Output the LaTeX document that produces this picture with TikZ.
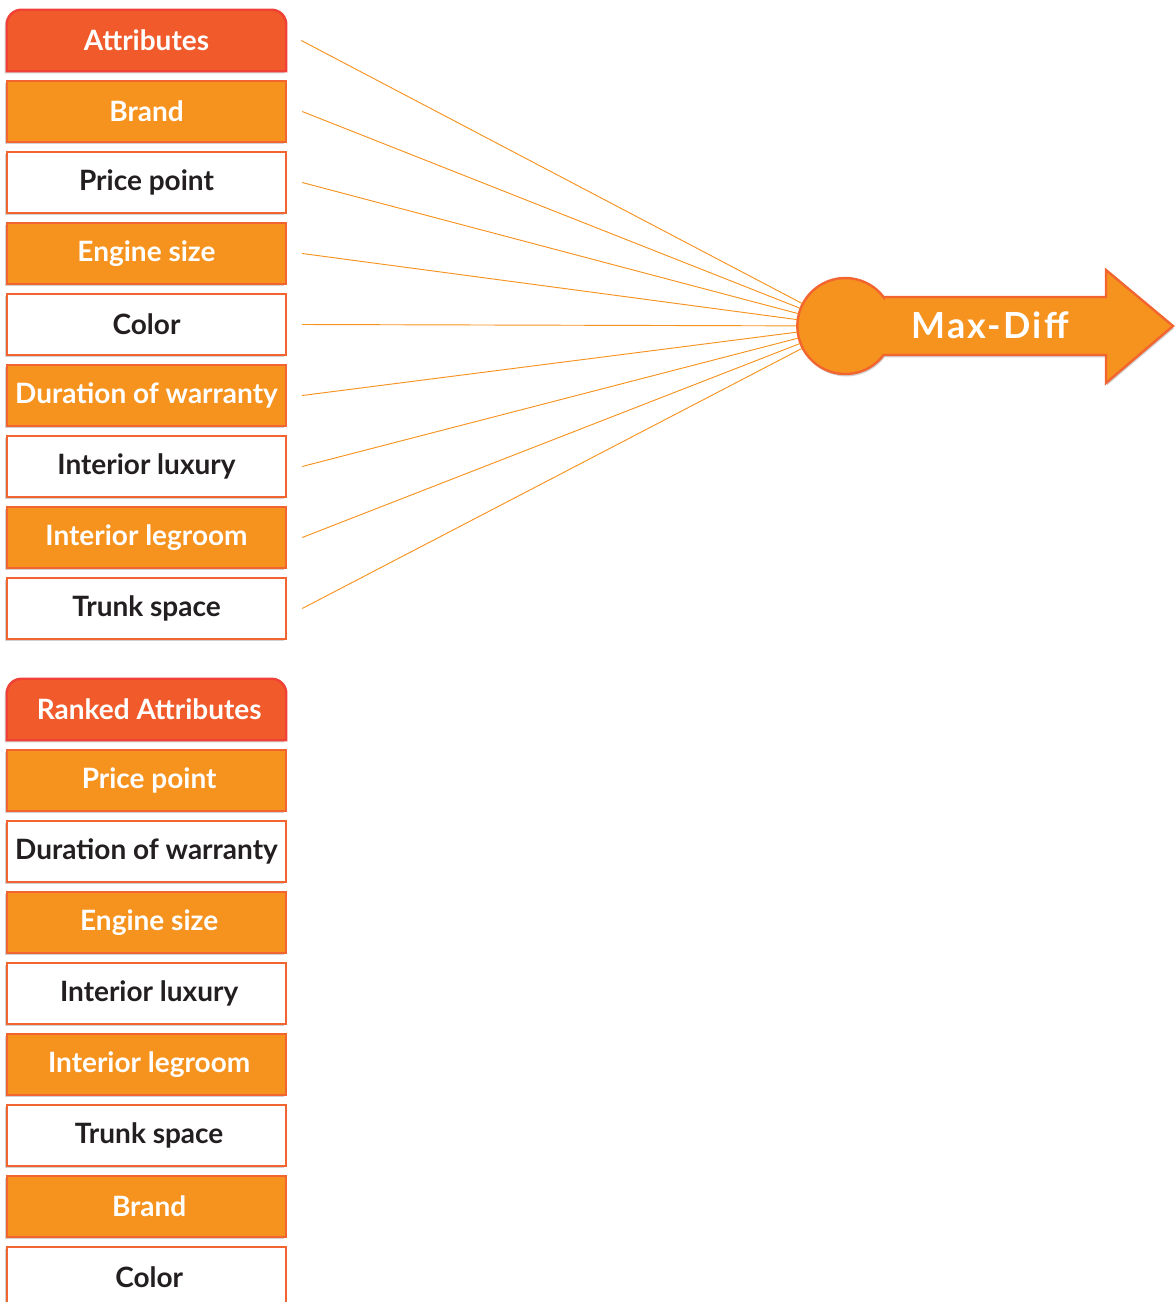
\documentclass[tikz,border=0pt]{standalone}
\usepackage{fontspec}
\setmainfont{Lato}
\usepackage{tikz}
\usetikzlibrary{shadows,backgrounds}
\definecolor{headred}{HTML}{F15A2A}
\definecolor{headedge}{HTML}{EF4136}
\definecolor{boxorange}{HTML}{F6921E}
\definecolor{boxedge}{HTML}{F26430}
\definecolor{darktext}{HTML}{231F20}
\tikzset{
	attrbox/.style={rectangle, draw=boxedge, line width=1.8pt, minimum width=209.25pt, minimum height=45.75pt, inner sep=0pt,
		font=\fontsize{21}{24}\selectfont\bfseries, drop shadow={shadow xshift=-1.5pt, shadow yshift=-1.5pt, opacity=.18, fill=black}},
	fullbox/.style={attrbox, fill=boxorange, text=white},
	plainbox/.style={attrbox, fill=white, text=darktext},
	headbox/.style={rectangle, minimum width=209.25pt, minimum height=45.75pt, inner sep=0pt, text=white,
		font=\fontsize{21}{24}\selectfont\bfseries},
	spoke/.style={draw=boxorange, line width=.7pt}
}
% rounded top only, flat bottom
\newcommand{\headshape}[1]{
	\fill [headred, draw=headedge, line width=1.8pt, drop shadow={shadow xshift=-1.5pt, shadow yshift=-1.5pt, opacity=.18, fill=black}]
		(#1.south west) -- ([yshift=-11pt]#1.north west) arc [start angle=180, end angle=90, radius=11pt]
		-- ([xshift=-11pt]#1.north east) arc [start angle=90, end angle=0, radius=11pt]
		-- (#1.south east) -- cycle;
}

\begin{document}
\begin{tikzpicture}[x=0.75pt, y=-0.75pt]
\useasboundingbox (0 ,0) rectangle (1174 ,1302);

% attributes
\node [headbox] (head1) at (146.5 ,40.5) {Attributes};
\node [fullbox] (brand1) at (146.5 ,111.5) {Brand};
\node [plainbox] (price1) at (146.5 ,182.5) {Price point};
\node [fullbox] (engine1) at (146.5 ,253.5) {Engine size};
\node [plainbox] (color1) at (146.5 ,324.5) {Color};
\node [fullbox] (warranty1) at (146.5 ,395.5) {Duration of warranty};
\node [plainbox] (luxury1) at (146.5 ,466.5) {Interior luxury};
\node [fullbox] (legroom1) at (146.5 ,537.5) {Interior legroom};
\node [plainbox] (trunk1) at (146.5 ,608.5) {Trunk space};

% ranked attributes
\node [headbox] (head2) at (146.5 ,709.5) {\hspace{4pt}Ranked Attributes};
\node [fullbox] (price2) at (146.5 ,780.5) {\hspace{4pt}Price point};
\node [plainbox] (warranty2) at (146.5 ,851.5) {Duration of warranty};
\node [fullbox] (engine2) at (146.5 ,922.5) {\hspace{4pt}Engine size};
\node [plainbox] (luxury2) at (146.5 ,993.5) {\hspace{4pt}Interior luxury};
\node [fullbox] (legroom2) at (146.5 ,1064.5) {\hspace{4pt}Interior legroom};
\node [plainbox] (trunk2) at (146.5 ,1135.5) {\hspace{4pt}Trunk space};
\node [fullbox] (brand2) at (146.5 ,1206.5) {\hspace{4pt}Brand};
\node [plainbox] (color2) at (146.5 ,1277.5) {\hspace{4pt}Color};

\begin{scope}[on background layer]
	\headshape{head1}
	\headshape{head2}
\end{scope}

% max-diff arrow
\node [circle, minimum size=72pt, inner sep=0pt] (hub) at (845 ,326) {};
\fill [boxorange, draw=boxedge, line width=1.8pt, line join=miter, drop shadow={shadow xshift=.8pt, shadow yshift=-1.8pt, opacity=.18, fill=black}]
	(hub.37.2) -- (1106 ,297) -- (1106 ,270) -- (1173 ,326) -- (1106 ,383) -- (1106 ,355)
	-- (hub.-37.2) arc [start angle=-37.2, end angle=-322.8, radius=36pt] -- cycle;
\node [text=white, font=\fontsize{27}{30}\selectfont\bfseries\addfontfeatures{LetterSpace=6}] (maxdiff) at (990 ,325) {Max-Diff};

\draw [spoke] ([xshift=11.25pt]head1.east) -- (hub);
\draw [spoke] ([xshift=11.25pt]brand1.east) -- (hub);
\draw [spoke] ([xshift=11.25pt]price1.east) -- (hub);
\draw [spoke] ([xshift=11.25pt]engine1.east) -- (hub);
\draw [spoke] ([xshift=11.25pt]color1.east) -- (hub);
\draw [spoke] ([xshift=11.25pt]warranty1.east) -- (hub);
\draw [spoke] ([xshift=11.25pt]luxury1.east) -- (hub);
\draw [spoke] ([xshift=11.25pt]legroom1.east) -- (hub);
\draw [spoke] ([xshift=11.25pt]trunk1.east) -- (hub);
\end{tikzpicture}
\end{document}
